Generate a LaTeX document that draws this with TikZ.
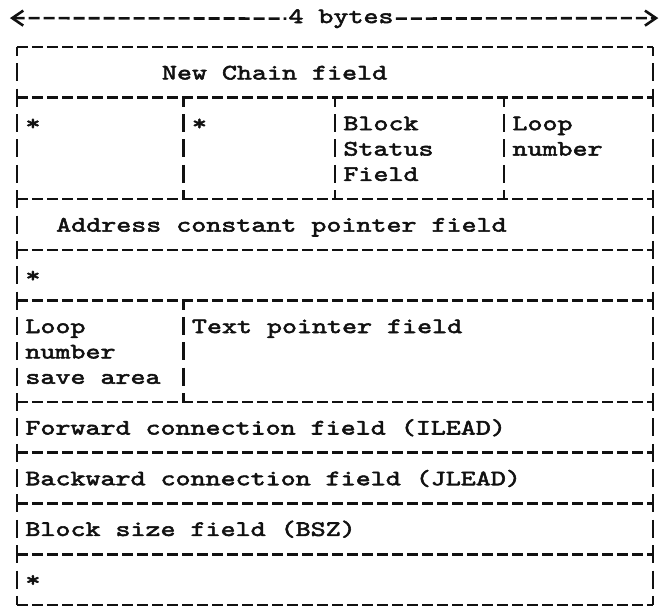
\documentclass[tikz,border=0pt]{standalone}
\usepackage{fontspec}
\setmonofont{lmmono10-regular.otf}[FakeStretch=1.30, FakeBold=2.5]
\usepackage{tikz}
\usetikzlibrary{arrows.meta}
\definecolor{Ink}{HTML}{111111}

% column positions (in typewriter characters)
\def\cA{11.1}
\def\cB{21.2}
\def\cC{32.47}
\def\wR{42.4}

\begin{document}
\begin{tikzpicture}[x=15pt, y=-25.36pt, >={Straight Barb[length=11pt, width=15pt]},
    rule/.style={color=Ink, line width=2.6pt},
    hdash/.style={rule, dash pattern=on 11pt off 4pt},
    vdash/.style={rule, dash pattern=on 18pt off 7.36pt, dash phase=9pt},
    txt/.style={font=\ttfamily\fontsize{22}{25.36}\selectfont, text=Ink, inner sep=0pt, anchor=base west}]
    \useasboundingbox (-1.1333,-1.8533) rectangle (43.0667,22.0820);

    % 1. Width arrow (4 bytes)
    \coordinate (wl) at (-0.47,-1.14);
    \coordinate (wr) at (42.75,-1.14);
    \node[txt, anchor=base, inner sep=2pt] (width) at (21.6,-0.943) {4 bytes};
    \draw[hdash, <-] (wl) -- (width);
    \draw[hdash, ->] (width) -- (wr);

    % 2. Row rules and outer border
    \foreach \r in {0,2,6,8,10,14,16,18,20,22}
        \draw[hdash] (0,\r) -- (\wR,\r);
    \draw[vdash] (0,0) -- (0,22);
    \draw[vdash] (\wR,0) -- (\wR,22);

    % 3. Field dividers
    \foreach \c in {\cA,\cB,\cC}
        \draw[vdash] (\c,2) -- (\c,6);
    \draw[vdash] (\cA,10) -- (\cA,14);

    % 4. Field texts
    \node[txt] (chain) at (9.65,1.28) {New Chain field};
    \node[txt] (flagA) at (0.55,3.28) {*};
    \node[txt] (flagB) at (\cA+0.55,3.28) {*};
    \foreach \t [count=\i from 3] in {Block,Status,Field}
        \node[txt] (bsf\i) at (\cB+0.55,\i+0.28) {\t};
    \foreach \t [count=\i from 3] in {Loop,number}
        \node[txt] (loop\i) at (\cC+0.55,\i+0.28) {\t};
    \node[txt] (adcon) at (2.6,7.28) {Address constant pointer field};
    \node[txt] (flagC) at (0.55,9.28) {*};
    \foreach \t [count=\i from 11] in {Loop,number,save area}
        \node[txt] (lsa\i) at (0.55,\i+0.28) {\t};
    \node[txt] (textptr) at (\cA+0.55,11.28) {Text pointer field};
    \node[txt] (ilead) at (0.55,15.28) {Forward connection field (ILEAD)};
    \node[txt] (jlead) at (0.55,17.28) {Backward connection field (JLEAD)};
    \node[txt] (bsz) at (0.55,19.28) {Block size field (BSZ)};
    \node[txt] (flagD) at (0.55,21.28) {*};
\end{tikzpicture}
\end{document}
